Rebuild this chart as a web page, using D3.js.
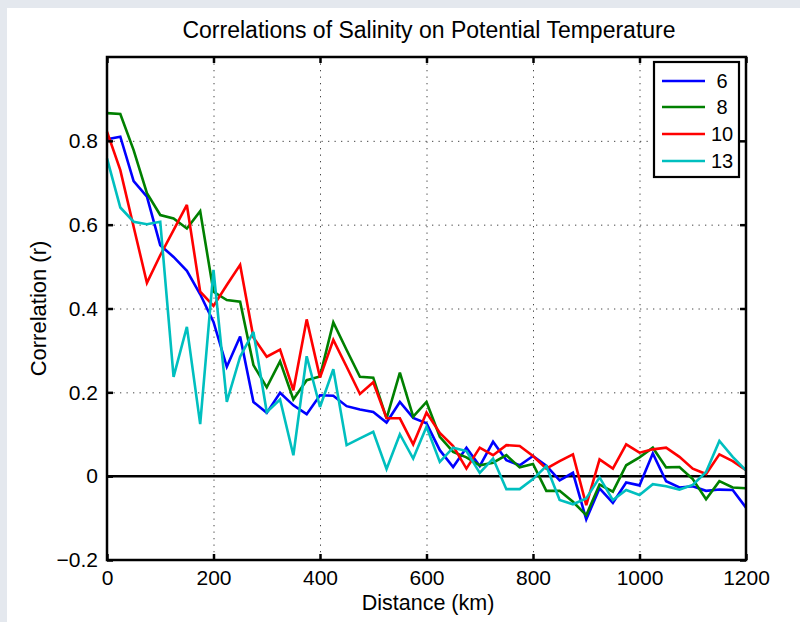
<!DOCTYPE html>
<html><head><meta charset="utf-8">
<script src="https://cdn.jsdelivr.net/npm/d3@7"></script>
<style>
html,body{margin:0;padding:0;background:#e4e8ee;}
svg{display:block;}
text{font-family:"Liberation Sans",Arial,Helvetica,sans-serif;fill:#000;}
</style></head>
<body>
<svg id="chart" width="800" height="622"></svg>
<script>
const distances = [0,25,50,75,100,125,150,175,200,225,250,275,300,325,350,375,400,425,450,475,500,525,550,575,600,625,650,675,700,725,750,775,800,825,850,875,900,925,950,975,1000,1025,1050,1075,1100,1125,1150,1175,1200];
const seriesNames = ["6","8","10","13"];
const seriesColors = ["#0000ff","#008000","#ff0000","#00bfbf"];
const r6  = [0.804,0.81,0.704,0.667,0.551,0.523,0.49,0.434,0.368,0.261,0.333,0.177,0.151,0.199,0.169,0.148,0.193,0.192,0.167,0.159,0.153,0.128,0.177,0.139,0.126,0.062,0.022,0.068,0.024,0.082,0.038,0.026,0.048,0.025,-0.01,0.008,-0.103,-0.029,-0.064,-0.015,-0.022,0.054,-0.012,-0.027,-0.024,-0.035,-0.032,-0.033,-0.075];
const r8  = [0.866,0.864,0.778,0.675,0.623,0.615,0.591,0.632,0.44,0.42,0.416,0.265,0.212,0.274,0.183,0.229,0.238,0.367,0.301,0.237,0.235,0.138,0.247,0.142,0.177,0.094,0.058,0.045,0.026,0.032,0.05,0.021,0.029,-0.035,-0.035,-0.061,-0.093,-0.02,-0.037,0.026,0.045,0.068,0.021,0.022,-0.007,-0.055,-0.012,-0.027,-0.029];
const r10 = [0.822,0.73,0.595,0.461,0.527,0.587,0.647,0.44,0.406,0.456,0.504,0.331,0.285,0.302,0.205,0.374,0.235,0.325,0.261,0.196,0.224,0.138,0.138,0.076,0.152,0.103,0.072,0.018,0.068,0.05,0.074,0.072,0.048,0.018,0.036,0.052,-0.069,0.04,0.018,0.076,0.056,0.064,0.068,0.046,0.018,0.005,0.052,0.036,0.014];
const r13 = [0.758,0.641,0.607,0.601,0.607,0.237,0.356,0.124,0.492,0.177,0.285,0.344,0.153,0.183,0.05,0.286,0.165,0.255,0.074,0.09,0.106,0.017,0.1,0.042,0.118,0.034,0.068,0.06,0.008,0.042,-0.031,-0.031,-0.007,0.024,-0.057,-0.067,-0.053,-0.003,-0.057,-0.033,-0.045,-0.019,-0.024,-0.032,-0.021,0.01,0.084,0.046,0.014];
const xTicks = [0,200,400,600,800,1000,1200];
const yTicks = [-0.2,0,0.2,0.4,0.6,0.8];
const yTickLabels = ["\u22120.2","0","0.2","0.4","0.6","0.8"];
const title = "Correlations of Salinity on Potential Temperature";
const xLabel = "Distance (km)";
const yLabel = "Correlation (r)";

const series = [r6, r8, r10, r13];

const svg = d3.select("#chart");
// figure background
svg.append("rect").attr("x",7).attr("y",8).attr("width",793).attr("height",614).attr("fill","#ffffff");

const L=107, R=746, T=57, B=560;
const x = d3.scaleLinear().domain([0,1200]).range([L,R]);
const y = d3.scaleLinear().domain([-0.2,1.0]).range([B,T]);

// grid
const grid = svg.append("g").attr("stroke","#444").attr("stroke-width",1).attr("stroke-dasharray","1.3,5.2");
grid.selectAll("line.gx").data(xTicks.slice(1,-1)).enter().append("line")
  .attr("x1",d=>x(d)+0.5).attr("x2",d=>x(d)+0.5).attr("y1",T).attr("y2",B);
grid.selectAll("line.gy").data([0.2,0.4,0.6,0.8]).enter().append("line")
  .attr("x1",L).attr("x2",R).attr("y1",d=>y(d)+0.5).attr("y2",d=>y(d)+0.5);

// zero line
svg.append("line").attr("x1",L).attr("x2",R).attr("y1",y(0)).attr("y2",y(0))
  .attr("stroke","#000").attr("stroke-width",2.5);

// series lines
const line = d3.line().x((d,i)=>x(distances[i])).y(d=>y(d));
series.forEach((s,k)=>{
  svg.append("path").datum(s).attr("d",line).attr("fill","none")
    .attr("stroke",seriesColors[k]).attr("stroke-width",2.6).attr("stroke-linejoin","miter").attr("stroke-miterlimit",3);
});

// axes with inward ticks
const tl = 6;
const axB = d3.axisBottom(x).tickValues(xTicks).tickSize(-tl).tickPadding(10).tickFormat(d3.format("d"));
const axT = d3.axisTop(x).tickValues(xTicks).tickSize(-tl).tickFormat("");
const axL = d3.axisLeft(y).tickValues(yTicks).tickSize(-tl).tickPadding(9).tickFormat((d,i)=>yTickLabels[i]);
const axR = d3.axisRight(y).tickValues(yTicks).tickSize(-tl).tickFormat("");
function style(g){
  g.select(".domain").remove();
  g.selectAll(".tick line").attr("stroke","#000").attr("stroke-width",2.5);
  g.selectAll(".tick text").attr("font-size",21).attr("fill","#000").attr("font-family","Liberation Sans, Arial, sans-serif");
}
svg.append("g").attr("transform",`translate(0,${B})`).call(axB).call(style);
svg.append("g").attr("transform",`translate(0,${T})`).call(axT).call(style);
svg.append("g").attr("transform",`translate(${L},0)`).call(axL).call(style);
svg.append("g").attr("transform",`translate(${R},0)`).call(axR).call(style);

// box
svg.append("rect").attr("x",L).attr("y",T).attr("width",R-L).attr("height",B-T)
  .attr("fill","none").attr("stroke","#000").attr("stroke-width",2.5);

// title & labels
svg.append("text").attr("x",429).attr("y",38).attr("text-anchor","middle").attr("font-size",23).text(title);
svg.append("text").attr("x",428).attr("y",610).attr("text-anchor","middle").attr("font-size",21.5).text(xLabel);
svg.append("text").attr("transform",`translate(46,${(T+B)/2}) rotate(-90)`).attr("text-anchor","middle").attr("font-size",22).text(yLabel);

// legend
const lg = svg.append("g");
lg.append("rect").attr("x",654).attr("y",62).attr("width",85).attr("height",115)
  .attr("fill","#fff").attr("stroke","#000").attr("stroke-width",2.2);
const rowY = [81,107,134,161];
seriesNames.forEach((n,k)=>{
  lg.append("line").attr("x1",662).attr("x2",705).attr("y1",rowY[k]).attr("y2",rowY[k])
    .attr("stroke",seriesColors[k]).attr("stroke-width",2.6);
  lg.append("text").attr("x",722).attr("y",rowY[k]).attr("dy","0.35em").attr("text-anchor","middle")
    .attr("font-size",20).text(n);
});
</script>
</body></html>
